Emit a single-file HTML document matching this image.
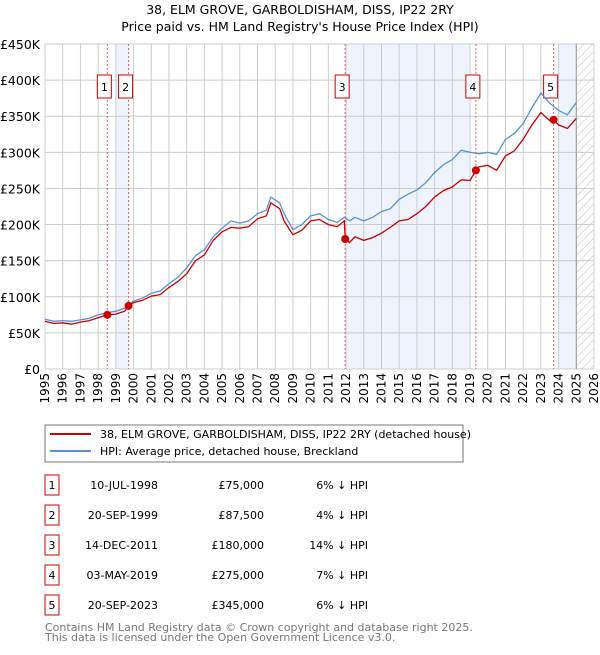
<!DOCTYPE html>
<html><head><meta charset="utf-8"><style>
body{margin:0;background:#fff;font-family:"Liberation Sans","DejaVu Sans",sans-serif;}
svg text{font-family:"DejaVu Sans","Liberation Sans",sans-serif;}
</style></head><body>
<svg id="c" width="600" height="650" xmlns="http://www.w3.org/2000/svg">
<defs><pattern id="hatch" width="6" height="6" patternUnits="userSpaceOnUse" patternTransform="rotate(45)"><line x1="0" y1="0" x2="0" y2="6" stroke="#bbb" stroke-width="1"/></pattern></defs>
<text x="300" y="14" text-anchor="middle" font-size="12.5">38, ELM GROVE, GARBOLDISHAM, DISS, IP22 2RY</text>
<text x="300" y="31" text-anchor="middle" font-size="12.5">Price paid vs. HM Land Registry's House Price Index (HPI)</text>
<g id="plot"></g>
<rect x="45" y="425" width="418" height="37" fill="#fff" stroke="#777"/>
<line x1="50" y1="434" x2="91" y2="434" stroke="#cc0000" stroke-width="2"/>
<text x="100" y="438" font-size="11">38, ELM GROVE, GARBOLDISHAM, DISS, IP22 2RY (detached house)</text>
<line x1="50" y1="451" x2="91" y2="451" stroke="#5b8fd4" stroke-width="2"/>
<text x="100" y="455" font-size="11">HPI: Average price, detached house, Breckland</text>
<g id="tbl"></g>
<text x="45" y="631" font-size="11" fill="#777">Contains HM Land Registry data © Crown copyright and database right 2025.</text>
<text x="45" y="641" font-size="11" fill="#777">This data is licensed under the Open Government Licence v3.0.</text>
</svg>
<script>
const hpiYears=[1995,1995.5,1996,1996.5,1997,1997.5,1998,1998.5,1999,1999.5,2000,2000.5,2001,2001.5,2002,2002.5,2003,2003.5,2004,2004.5,2005,2005.5,2006,2006.5,2007,2007.5,2007.75,2008.25,2008.5,2009,2009.5,2010,2010.5,2011,2011.5,2011.9,2012.2,2012.5,2013,2013.5,2014,2014.5,2015,2015.5,2016,2016.5,2017,2017.5,2018,2018.5,2019,2019.5,2020,2020.5,2021,2021.5,2022,2022.5,2023,2023.5,2024,2024.5,2025];
const hpiValues=[69,66,67,66,68,70,75,78,80,84,94,98,105,108,118,127,140,157,165,183,195,205,202,205,215,220,238,230,215,193,200,212,215,207,203,210,205,210,205,210,218,222,235,242,248,258,272,283,290,303,300,298,300,297,318,326,340,362,382,368,358,352,369];
const redYears=[1995,1995.5,1996,1996.5,1997,1997.5,1998,1998.52,1999,1999.5,1999.72,2000,2000.5,2001,2001.5,2002,2002.5,2003,2003.5,2004,2004.5,2005,2005.5,2006,2006.5,2007,2007.5,2007.75,2008.25,2008.5,2009,2009.5,2010,2010.5,2011,2011.5,2011.9,2011.95,2012.2,2012.5,2013,2013.5,2014,2014.5,2015,2015.5,2016,2016.5,2017,2017.5,2018,2018.5,2019,2019.33,2019.5,2020,2020.5,2021,2021.5,2022,2022.5,2023,2023.5,2023.72,2024,2024.5,2025];
const redValues=[66,63,64,62,65,67,71,75,76,80,87.5,92,95,101,103,113,121,132,150,158,178,190,196,195,197,208,212,230,222,205,186,192,205,207,200,197,205,180,175,183,178,182,188,196,205,207,215,225,238,247,252,262,261,275,280,282,275,295,302,318,338,355,344,345,338,333,347];
const saleLabels=["1","2","3","4","5"];
const saleYears=[1998.52,1999.72,2011.95,2019.33,2023.72];
const salePrices=[75,87.5,180,275,345];
const saleDates=["10-JUL-1998","20-SEP-1999","14-DEC-2011","03-MAY-2019","20-SEP-2023"];
const salePriceText=["£75,000","£87,500","£180,000","£275,000","£345,000"];
const saleHpiText=["6% ↓ HPI","4% ↓ HPI","14% ↓ HPI","7% ↓ HPI","6% ↓ HPI"];
const yTicks=[0,50,100,150,200,250,300,350,400,450];
const yTickLabels=["£0","£50K","£100K","£150K","£200K","£250K","£300K","£350K","£400K","£450K"];
const shadeRanges=[[1999,1999.72],[2011.95,2019],[2024,2025]];

const X0=45,X1=594,Y0=369,Y1=44;
const x=y=>X0+(y-1995)/(2026-1995)*(X1-X0);
const yv=v=>Y0-v/450*(Y0-Y1);
const NS="http://www.w3.org/2000/svg";
const plot=document.getElementById('plot');
function mk(t,a,p){const e=document.createElementNS(NS,t);for(const k in a)e.setAttribute(k,a[k]);(p||plot).appendChild(e);return e;}

shadeRanges.forEach(r=>{const e=mk('rect',{x:x(r[0]),y:Y1,width:x(r[1])-x(r[0]),height:Y0-Y1,fill:'#eef3fc'});

});
const h=mk('rect',{x:x(2025),y:Y1,width:X1-x(2025),height:Y0-Y1,fill:'url(#hatch)'});


for(let yr=1995;yr<=2026;yr++){
 const g=mk('line',{x1:x(yr),x2:x(yr),y1:Y1,y2:Y0,stroke:'#ccc','stroke-width':1});
 
 
 const t=mk('text',{x:0,y:0,'font-size':12,'text-anchor':'end',transform:`translate(${x(yr)+4},${Y0+4}) rotate(-90)`});
 t.textContent=yr;
 
 
}
yTicks.forEach((v,i)=>{
 const g=mk('line',{x1:X0,x2:X1,y1:yv(v),y2:yv(v),stroke:'#ccc','stroke-width':1});
 
 
 const t=mk('text',{x:X0-5,y:yv(v)+5,'font-size':12.5,'text-anchor':'end'});
 t.textContent=yTickLabels[i];
 
 
});
const ax=mk('line',{x1:x(2025),x2:x(2025),y1:Y1,y2:Y0,stroke:'#999','stroke-width':1});


saleYears.forEach((s,i)=>{
 const l=mk('line',{x1:x(s),x2:x(s),y1:Y1,y2:Y0,stroke:'#e06060','stroke-width':1,'stroke-dasharray':'2,2'});
 
 
 const bx=mk('rect',{x:x(s)-10,y:75,width:14,height:23,fill:'#fff',stroke:'#cc0000'});
 
 
 const t=mk('text',{x:x(s)-3,y:91,'font-size':11,'text-anchor':'middle'});
 t.textContent=saleLabels[i];
 
 
});
const pth=(ys,vs)=>ys.map((yr,i)=>(i?'L':'M')+x(yr).toFixed(1)+','+yv(vs[i]).toFixed(1)).join('');
const hl=mk('path',{d:pth(hpiYears,hpiValues),fill:'none',stroke:'#5b8fd4','stroke-width':1.3});


const rl=mk('path',{d:pth(redYears,redValues),fill:'none',stroke:'#cc0000','stroke-width':1.3});


saleYears.forEach((s,i)=>{
 const c=mk('circle',{cx:x(s),cy:yv(salePrices[i]),r:4,fill:'#cc0000'});
 
 
});
const tbl=document.getElementById('tbl');
saleLabels.forEach((lb,i)=>{
 const yy=477+i*30;
 const b=mk('rect',{x:45,y:yy-2,width:14,height:20,fill:'#fff',stroke:'#cc0000'},tbl);
 
 
 const cells=[[52,lb,'middle'],[158,saleDates[i],'end'],[264,salePriceText[i],'end'],[368,saleHpiText[i],'end']];
 cells.forEach((c,j)=>{
  const t=mk('text',{x:c[0],y:yy+12,'font-size':11,'text-anchor':c[2]},tbl);
  t.textContent=c[1];
  
  
 });
});
</script>
</body></html>
